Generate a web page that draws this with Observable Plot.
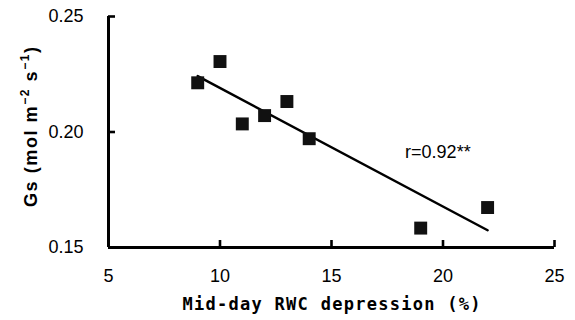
<!DOCTYPE html>
<html><head><meta charset="utf-8">
<script src="https://cdn.jsdelivr.net/npm/d3@7"></script>
<script src="https://cdn.jsdelivr.net/npm/@observablehq/plot@0.6"></script>
<style>
body{margin:0;background:#fff;}
#chart{width:575px;height:320px;}
</style></head><body><div id="chart"></div>
<script>
const rwcDepression = [9, 10, 11, 12, 13, 14, 19, 22];
const gs = [0.2213, 0.2305, 0.2035, 0.2071, 0.2132, 0.1971, 0.1584, 0.1673];
const xTicks = [5, 10, 15, 20, 25];
const yTicks = [0.15, 0.20, 0.25];
const xTitle = "Mid-day RWC depression (%)";
const annotation = [{x: 18.3, y: 0.1913, label: "r=0.92**"}];

const data = rwcDepression.map((x, i) => ({x, y: gs[i]}));
const font = "'Liberation Sans', Arial, sans-serif";
const W = 575, H = 320, mL = 108, mR = 21, mT = 16, mB = 73, tick = 7;

const plot = Plot.plot({
  width: W, height: H, axis: null,
  marginLeft: mL, marginRight: mR, marginTop: mT, marginBottom: mB,
  style: {fontFamily: font, fontSize: "18px", color: "#000"},
  x: {domain: [5, 25]},
  y: {domain: [0.15, 0.25]},
  marks: [
    Plot.axisX({ticks: xTicks, tickSize: 0, tickPadding: 22, label: null, tickFormat: d3.format("d")}),
    Plot.axisY({ticks: yTicks, tickSize: 0, tickPadding: 25, label: null, tickFormat: d3.format(".2f")}),
    Plot.ruleX(xTicks, {x: d => d, insetTop: H - mT - mB - tick, stroke: "#000", strokeWidth: 2.6}),
    Plot.ruleY(yTicks, {y: d => d, insetRight: W - mL - mR - tick, stroke: "#000", strokeWidth: 2.6}),
    Plot.ruleY([0.15], {stroke: "#000", strokeWidth: 3}),
    Plot.ruleX([5], {stroke: "#000", strokeWidth: 3}),
    Plot.linearRegressionY(data, {x: "x", y: "y", ci: 0, stroke: "#000", strokeWidth: 2.5}),
    Plot.dot(data, {x: "x", y: "y", symbol: "square", r: 7.3, fill: "#111", stroke: null}),
    Plot.text(annotation, {x: "x", y: "y", text: "label", textAnchor: "start", fontSize: 18}),
    Plot.text([xTitle], {frameAnchor: "bottom", dy: 62, fontWeight: "bold", fontSize: 17,
      fontFamily: "'DejaVu Sans Mono', monospace"})
  ]
});
document.getElementById("chart").append(plot);

const svg = d3.select(plot);
svg.selectAll("text").filter(function() { return this.textContent === xTitle; })
  .attr("textLength", 298).attr("lengthAdjust", "spacing");

const yl = svg.append("text")
  .attr("transform", "translate(37,127) rotate(-90)")
  .attr("text-anchor", "middle")
  .attr("font-family", font)
  .attr("font-weight", "bold")
  .attr("font-size", 18)
  .attr("fill", "#000");
yl.append("tspan").text("Gs (mol m");
yl.append("tspan").attr("font-size", 12).attr("dy", -8).text("\u22122");
yl.append("tspan").attr("dy", 8).text(" s");
yl.append("tspan").attr("font-size", 12).attr("dy", -8).text("\u22121");
yl.append("tspan").attr("dy", 8).text(")");
yl.attr("textLength", 160).attr("lengthAdjust", "spacing");
</script></body></html>
